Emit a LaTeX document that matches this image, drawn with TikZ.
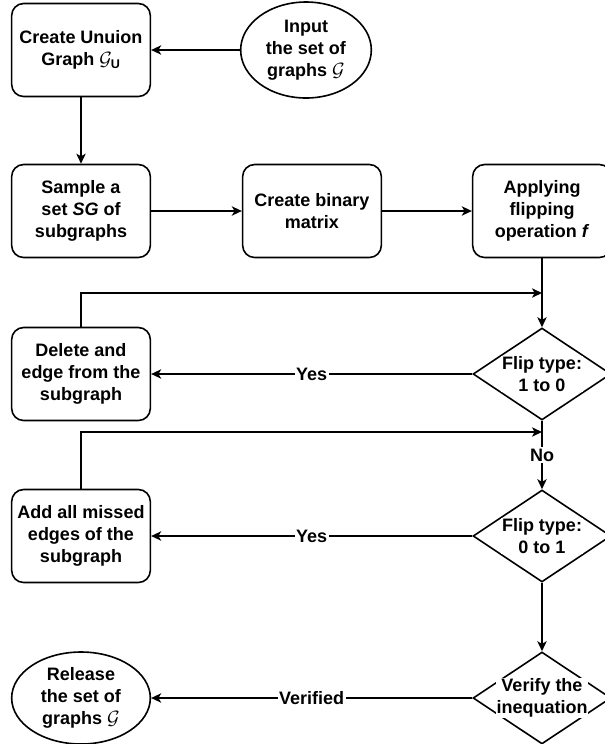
\documentclass[tikz,border=0pt]{standalone}
\usepackage{amsmath}
\usepackage{fontspec}
\setmainfont{Liberation Sans}
\usetikzlibrary{arrows.meta,shapes.geometric}

\begin{document}
\begin{tikzpicture}[
  x=0.75pt,y=-0.75pt,
  font=\fontsize{13.5}{16.5}\selectfont\bfseries,
  box/.style={draw,rounded corners=9pt,fill=white,minimum width=104pt,minimum height=69.75pt,align=center,line width=1.2pt,inner sep=2pt},
  term/.style={draw,ellipse,fill=white,minimum width=104pt,minimum height=69pt,align=center,line width=1.2pt,inner sep=0pt},
  decision/.style={draw,diamond,fill=white,minimum width=103.5pt,minimum height=69pt,inner sep=0pt,line width=1.2pt},
  dtext/.style={fill=white,inner sep=0.5pt,align=center},
  elabel/.style={fill=white,inner sep=1pt},
  arrow/.style={-{Stealth[length=7.5pt,width=7pt,inset=2pt]},line width=1.2pt}
]
\useasboundingbox (0,0) rectangle (605,744);

\node[box] (union) at (81,50) {Create Unuion\\Graph $\mathcal{G}_{\text{U}}$};
\node[term,minimum width=98pt,minimum height=72pt] (input) at (306,50) {Input\\the set of\\graphs $\mathcal{G}$};
\node[box] (sample) at (81,211) {Sample a\\set \textit{SG} of\\subgraphs};
\node[box] (binary) at (312,211) {Create binary\\matrix};
\node[box] (flipop) at (542,211) {Applying\\flipping\\operation \textit{f}};
\node[decision] (flip10) at (542,374) {};
\node[dtext] (flip10t) at (flip10) {Flip type:\\1 to 0};
\node[box] (delete) at (81,374) {Delete and\\edge from the\\subgraph};
\node[decision] (flip01) at (542,536) {};
\node[dtext] (flip01t) at (flip01) {Flip type:\\0 to 1};
\node[box] (addall) at (81,536) {Add all missed\\edges of the\\subgraph};
\node[decision] (verify) at (542,698) {};
\node[dtext] (verifyt) at (verify) {Verify the\\inequation};
\node[term] (release) at (81,698) {Release\\the set of\\graphs $\mathcal{G}$};

\coordinate (j1) at (542,293);
\coordinate (j2) at (542,432);

\draw[arrow] (input) -- (union);
\draw[arrow] (union) -- (sample);
\draw[arrow] (sample) -- (binary);
\draw[arrow] (binary) -- (flipop);
\draw[arrow] (flipop) -- (flip10);
\draw[arrow] (flip10) -- node[elabel] {Yes} (delete);
\draw[arrow] (delete.north) |- (j1);
\draw[arrow] (flip10) -- node[elabel] {No} (flip01);
\draw[arrow] (flip01) -- node[elabel] {Yes} (addall);
\draw[arrow] (addall.north) |- (j2);
\draw[arrow] (flip01) -- (verify);
\draw[arrow] (verify) -- node[elabel] {Verified} (release);
\end{tikzpicture}
\end{document}
